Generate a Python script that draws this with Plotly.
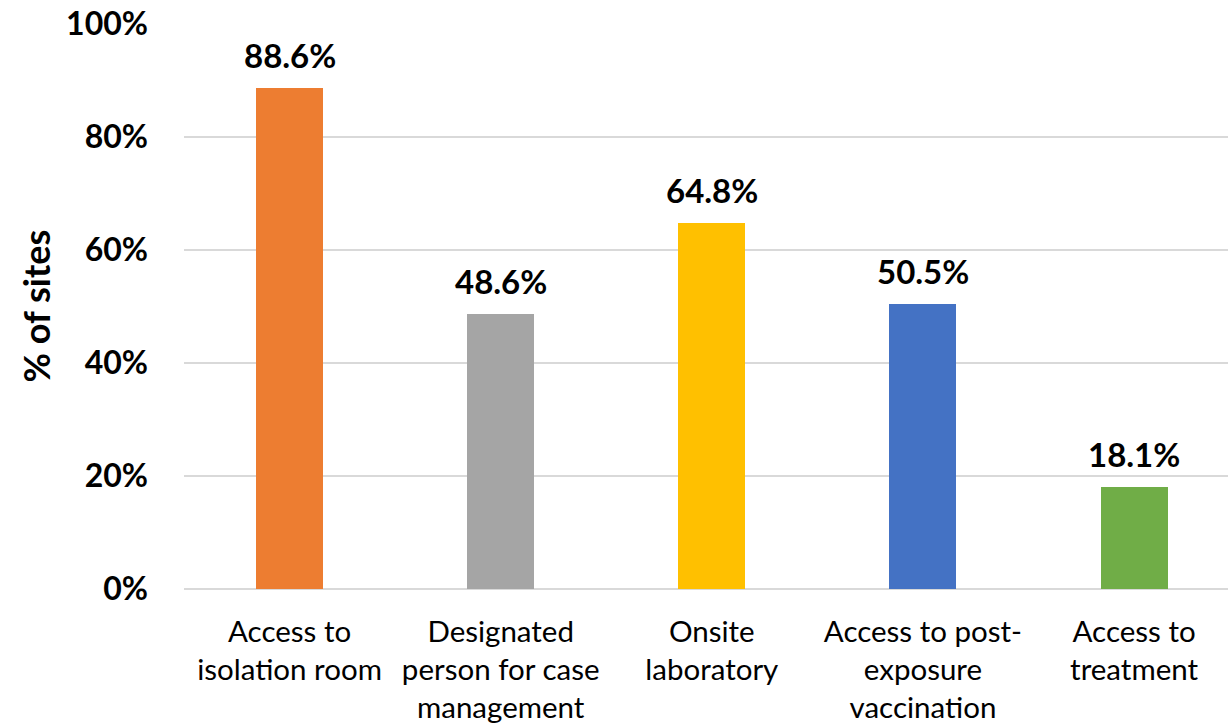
import plotly.graph_objects as go

categories = ["Access to<br>isolation room", "Designated<br>person for case<br>management",
              "Onsite<br>laboratory", "Access to post-<br>exposure<br>vaccination",
              "Access to<br>treatment"]
values = [88.6, 48.6, 64.8, 50.5, 18.1]
colors = ["#ED7D31", "#A5A5A5", "#FFC000", "#4472C4", "#70AD47"]
y_ticks = [0, 20, 40, 60, 80, 100]
y_tick_labels = ["0%", "20%", "40%", "60%", "80%", "100%"]

W, H = 1228, 723
ml, mr, mt, mb = 184, 0, 24, 134

fig = go.Figure()
fig.add_trace(go.Bar(
    x=list(range(len(categories))), y=values,
    marker=dict(color=colors, line=dict(width=0)),
    width=0.317,
))

for i, v in enumerate(values):
    fig.add_annotation(x=i, y=v, text=f"<b>{v:.1f}%</b>", showarrow=False,
                       yanchor="bottom", yshift=11,
                       font=dict(family="Lato", size=33, color="black"))

fig.add_annotation(xref="paper", yref="paper", x=(35 - ml) / (W - ml - mr), y=0.5,
                   xanchor="center", yanchor="middle",
                   text="<b>% of sites</b>", textangle=-90, showarrow=False,
                   font=dict(family="Lato", size=36, color="black"))

fig.update_layout(
    width=W, height=H,
    margin=dict(l=ml, r=mr, t=mt, b=mb, pad=0),
    plot_bgcolor="white", paper_bgcolor="white",
    showlegend=False,
    bargap=0,
    xaxis=dict(
        tickmode="array", tickvals=list(range(len(categories))), ticktext=categories,
        range=[-0.5, 4.445], showgrid=False, zeroline=False,
        showline=False, ticks="", ticklabelstandoff=22,
        tickfont=dict(family="Lato", size=29.5, color="black"),
    ),
    yaxis=dict(
        range=[0, 100], tickmode="array", tickvals=y_ticks, ticktext=y_tick_labels,
        showgrid=True, gridcolor="#D9D9D9", gridwidth=2,
        zeroline=True, zerolinecolor="#D9D9D9", zerolinewidth=2,
        showline=False, ticks="", ticklabelstandoff=35,
        tickfont=dict(family="Lato", size=32, color="black", weight="bold"),
    ),
)

fig.write_html("out.html")
